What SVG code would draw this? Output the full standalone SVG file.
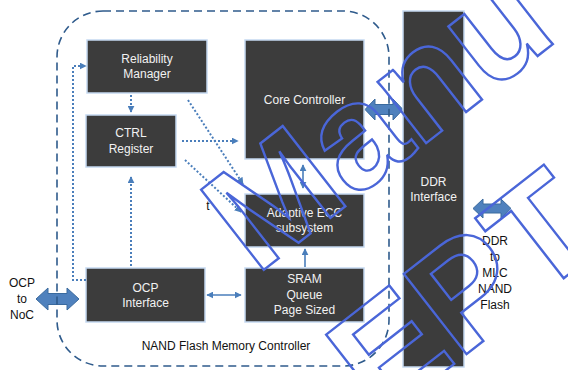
<svg xmlns="http://www.w3.org/2000/svg" width="568" height="370" viewBox="0 0 568 370">
<style>
.box{fill:#3c3c3c;stroke:#c5d9f1;stroke-width:1.5}
.wt{font-family:"Liberation Sans",Arial,sans-serif;font-size:12px;fill:#f2f2f2;text-anchor:middle}
.bt{font-family:"Liberation Sans",Arial,sans-serif;font-size:12px;fill:#111;text-anchor:middle}
.dot{fill:none;stroke:#4a7ebb;stroke-width:2;stroke-dasharray:2 2}
.sol{fill:none;stroke:#4a7ebb;stroke-width:1.6}
.blk{fill:#4f81bd;stroke:#3a6a9e;stroke-width:1}
.wm{font-family:"Liberation Sans",Arial,sans-serif;font-size:148px;font-weight:bold;fill:none;stroke:#4a66d8;stroke-width:2.4}
</style>
<defs>
<marker id="ah" viewBox="0 0 10 10" refX="9" refY="5" markerWidth="7" markerHeight="7" markerUnits="userSpaceOnUse" orient="auto-start-reverse">
<path d="M0,0 L10,5 L0,10 Z" fill="#4a7ebb"/>
</marker>
</defs>
<g id="block-arrows">
<path class="blk" d="M36,299 L48,288 L48,293.5 L67,293.5 L67,288 L79,299 L67,310 L67,304.5 L48,304.5 L48,310 Z"/>
<path class="blk" d="M365,109.5 L375,99 L375,104.5 L393,104.5 L393,99 L403,109.5 L393,120 L393,114.5 L375,114.5 L375,120 Z"/>
<path class="blk" d="M473,208.5 L483,199 L483,204 L501,204 L501,199 L511,208.5 L501,218 L501,213 L483,213 L483,218 Z"/>
</g>
<g id="controller-boundary">
<rect x="57" y="11" width="332" height="355" rx="46" ry="46" fill="none" stroke="#2f5b8c" stroke-width="1.6" stroke-dasharray="8 5"/>
<text class="bt" x="226" y="350">NAND Flash Memory Controller</text>
</g>
<g id="reliability-manager">
<rect class="box" x="87" y="40" width="120" height="53"/>
<text class="wt" x="147" y="62.5">Reliability</text>
<text class="wt" x="147" y="78">Manager</text>
</g>
<g id="ctrl-register">
<rect class="box" x="86" y="115" width="90" height="52"/>
<text class="wt" x="131" y="137">CTRL</text>
<text class="wt" x="131" y="153">Register</text>
</g>
<g id="core-controller">
<rect class="box" x="245" y="40" width="119" height="119"/>
<text class="wt" x="304.5" y="104">Core Controller</text>
</g>
<g id="adaptive-ecc">
<rect class="box" x="245" y="194" width="119" height="53"/>
<text class="wt" x="304.5" y="217">Adaptive ECC</text>
<text class="wt" x="304.5" y="232">subsystem</text>
</g>
<g id="sram-queue">
<rect class="box" x="245" y="268" width="119" height="54"/>
<text class="wt" x="304.5" y="283">SRAM</text>
<text class="wt" x="304.5" y="299">Queue</text>
<text class="wt" x="304.5" y="314">Page Sized</text>
</g>
<g id="ocp-interface">
<rect class="box" x="86" y="268" width="119" height="54"/>
<text class="wt" x="145.5" y="292">OCP</text>
<text class="wt" x="145.5" y="307">Interface</text>
</g>
<g id="ddr-interface">
<rect class="box" x="403" y="11" width="61" height="356"/>
<text class="wt" x="433.5" y="186">DDR</text>
<text class="wt" x="433.5" y="201">Interface</text>
</g>
<g id="ocp-to-noc">
<text class="bt" x="22" y="287">OCP</text>
<text class="bt" x="22" y="303">to</text>
<text class="bt" x="22" y="319">NoC</text>
</g>
<g id="ddr-to-nand">
<text class="bt" x="495" y="245">DDR</text>
<text class="bt" x="495" y="261">to</text>
<text class="bt" x="495" y="277">MLC</text>
<text class="bt" x="495" y="293">NAND</text>
<text class="bt" x="495" y="309">Flash</text>
</g>
<g id="stray-label">
<text class="bt" x="208" y="210">t</text>
</g>
<g id="connectors">
<path class="dot" d="M86,280 L73,280 L73,66 L86,66" marker-end="url(#ah)"/>
<path class="dot" d="M131,95 L131,112" marker-end="url(#ah)"/>
<path class="dot" d="M131,266 L131,177" marker-end="url(#ah)"/>
<path class="dot" d="M182,141 L238,141" marker-end="url(#ah)"/>
<path class="dot" d="M188,100 L243,184" marker-end="url(#ah)"/>
<path class="dot" d="M185,160 L241,212" marker-end="url(#ah)"/>
<path class="sol" d="M303,165 L303,188" marker-start="url(#ah)" marker-end="url(#ah)"/>
<path class="sol" d="M305,267 L305,249" marker-end="url(#ah)"/>
<path class="sol" d="M207,295 L241,295" marker-start="url(#ah)" marker-end="url(#ah)"/>
</g>
<g id="watermark">
<text class="wm" transform="translate(256,276) rotate(-38)">Manu</text>
<text class="wm" transform="translate(381,421) rotate(-38)">EPT</text>
</g>
</svg>
